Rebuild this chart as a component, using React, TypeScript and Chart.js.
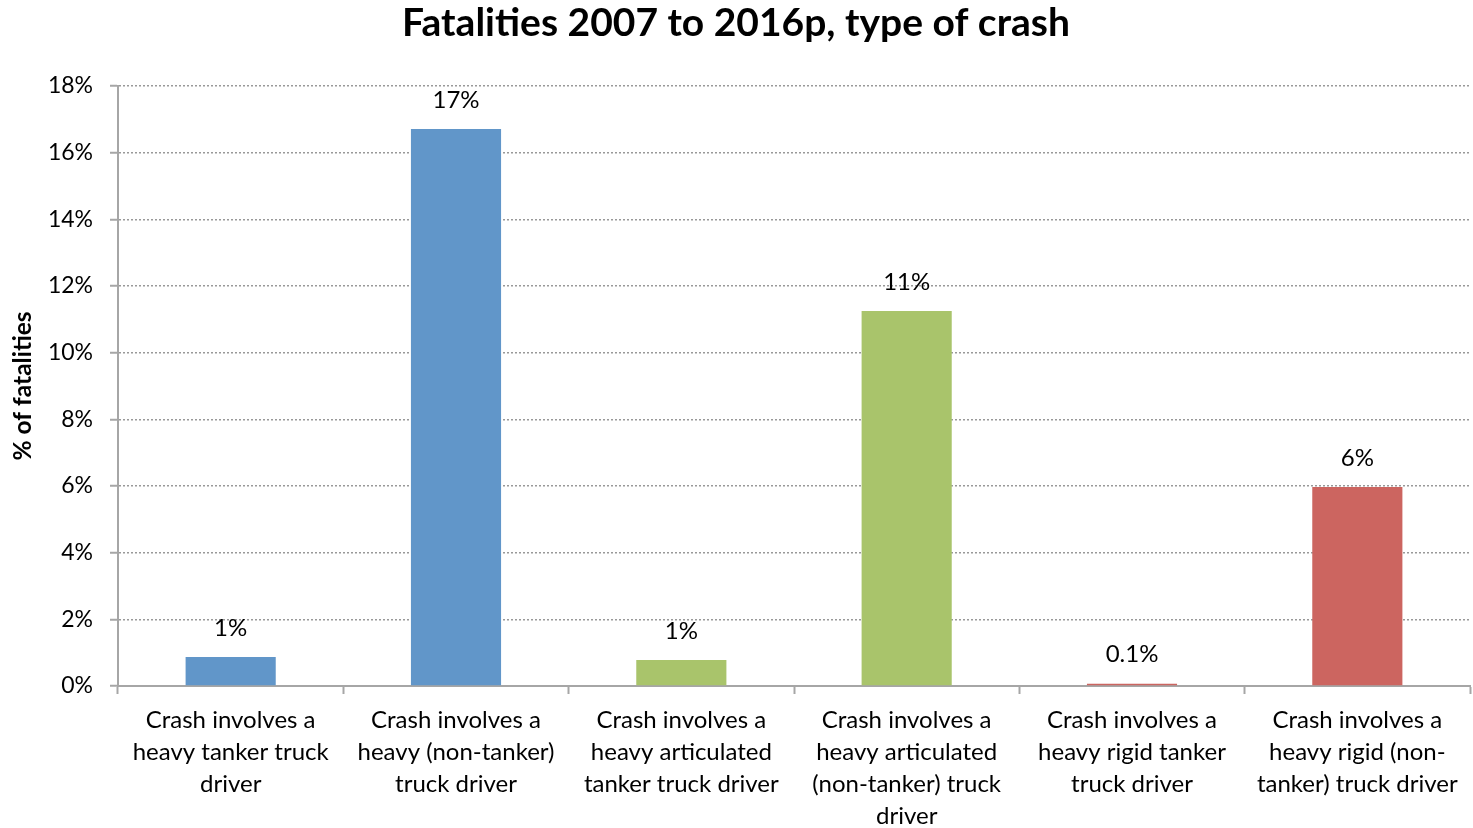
import React, { useEffect, useRef } from "react";
import { Chart, registerables } from "chart.js";

Chart.register(...registerables);

const TITLE = "Fatalities 2007 to 2016p, type of crash";
const Y_TITLE = "% of fatalities";

const categories: string[][] = [
  ["Crash involves a", "heavy tanker truck", "driver"],
  ["Crash involves a", "heavy (non-tanker)", "truck driver"],
  ["Crash involves a", "heavy articulated", "tanker truck driver"],
  ["Crash involves a", "heavy articulated", "(non-tanker) truck", "driver"],
  ["Crash involves a", "heavy rigid tanker", "truck driver"],
  ["Crash involves a", "heavy rigid (non-", "tanker) truck driver"],
];

const values: number[] = [0.87, 16.71, 0.78, 11.25, 0.07, 5.97];
const valueLabels: string[] = ["1%", "17%", "1%", "11%", "0.1%", "6%"];
const barColors: string[] = ["#6196C9", "#6196C9", "#A9C46B", "#A9C46B", "#CC6560", "#CC6560"];

const FONT = "Lato, 'Open Sans', sans-serif";

const labelPlugin = {
  id: "valueLabels",
  afterDatasetsDraw(chart: any) {
    const ctx = chart.ctx;
    const meta = chart.getDatasetMeta(0);
    ctx.save();
    ctx.font = `24px ${FONT}`;
    ctx.fillStyle = "#000";
    ctx.textAlign = "center";
    ctx.textBaseline = "middle";
    meta.data.forEach((bar: any, i: number) => {
      ctx.fillText(valueLabels[i], bar.x, bar.y - 29);
    });
    ctx.restore();
  },
};

const titlePlugin = {
  id: "topTitle",
  afterDraw(chart: any) {
    const ctx = chart.ctx;
    ctx.save();
    ctx.font = `bold 39px ${FONT}`;
    ctx.fillStyle = "#000";
    ctx.textAlign = "center";
    ctx.textBaseline = "middle";
    ctx.fillText(TITLE, 736, 23);
    ctx.restore();
  },
};

export default function App() {
  const ref = useRef<HTMLCanvasElement | null>(null);
  useEffect(() => {
    if (!ref.current) return;
    const chart = new Chart(ref.current, {
      type: "bar",
      data: {
        labels: categories,
        datasets: [
          {
            data: values,
            backgroundColor: barColors,
            borderWidth: 0,
            barPercentage: 0.4,
            categoryPercentage: 1,
          },
        ],
      },
      options: {
        responsive: false,
        animation: false,
        devicePixelRatio: 1,
        layout: { padding: { top: 86, right: 3, left: 0, bottom: 0 } },
        plugins: { legend: { display: false }, tooltip: { enabled: false }, title: { display: false } },
        scales: {
          x: {
            afterFit: (s: any) => {
              s.height = 142;
            },
            grid: {
              offset: true,
              drawOnChartArea: false,
              drawTicks: true,
              tickLength: 8,
              tickColor: "#a6a6a6",
              tickWidth: 2,
            },
            border: { display: true, color: "#a6a6a6", width: 2 },
            ticks: {
              autoSkip: false,
              maxRotation: 0,
              minRotation: 0,
              padding: 10,
              color: "#000",
              font: { family: FONT, size: 24, lineHeight: 1.333 },
            },
          },
          y: {
            min: 0,
            max: 18,
            afterFit: (s: any) => {
              s.width = 118;
            },
            grid: {
              color: "#999999",
              lineWidth: 1.5,
              drawTicks: true,
              tickLength: 8,
              tickColor: "#a6a6a6",
              tickWidth: 2,
              tickBorderDash: [],
            },
            border: { display: true, color: "#a6a6a6", width: 2, dash: [2, 2] },
            ticks: {
              stepSize: 2,
              padding: 17,
              color: "#000",
              font: { family: FONT, size: 23 },
              callback: (v: any) => `${v}%`,
            },
            title: {
              display: true,
              text: Y_TITLE,
              color: "#000",
              font: { family: FONT, size: 24.5, weight: "bold" },
              padding: { top: 8, bottom: 0 },
            },
          },
        },
      },
      plugins: [labelPlugin, titlePlugin],
    });
    return () => chart.destroy();
  }, []);
  return (
    <div style={{ position: "absolute", left: 0, top: 0, width: 1473, height: 828, background: "#fff" }}>
      <canvas ref={ref} width={1473} height={828} />
    </div>
  );
}
